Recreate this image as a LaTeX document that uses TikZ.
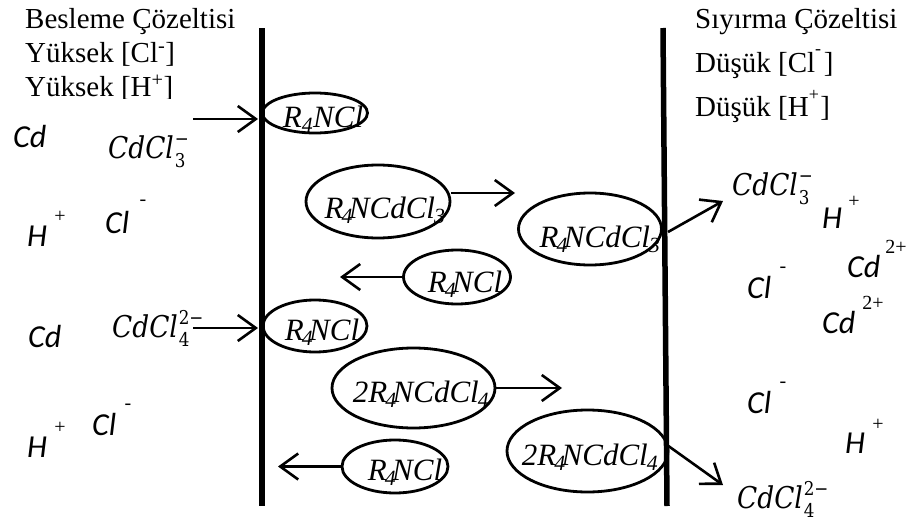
\documentclass[tikz,border=0pt]{standalone}
\usepackage{fontspec}
\setmainfont{Liberation Serif}
\newfontfamily\ionfont{Carlito}
\newfontfamily\cmplxfont{DejaVu Serif}
\usetikzlibrary{arrows.meta,shapes.geometric}
% chloro-cadmium anion with stacked subscript and superscript
\newcommand{\cdcl}[2]{\scalebox{0.88}[1]{{\cmplxfont\itshape CdCl}\kern1pt
  \rlap{\raisebox{-0.32em}{\fontsize{19}{19}\selectfont\cmplxfont #1}}%
  \raisebox{0.42em}{\fontsize{19}{19}\selectfont\cmplxfont #2}}}
\begin{document}
\begin{tikzpicture}[x=1pt,y=-1pt,
  membrane/.style={line width=5.5pt},
  oval/.style={draw, ellipse, line width=2.8pt, inner sep=0pt},
  arr/.style={line width=2.6pt, -{Straight Barb[length=18pt,width=26pt,line width=2.6pt]}},
  head/.style={anchor=base west, inner sep=0pt, font=\fontsize{29}{34}\selectfont},
  cplx/.style={anchor=base, inner sep=0pt, font=\fontsize{31}{34}\selectfont\itshape},
  ion/.style={anchor=base west, inner sep=0pt, font=\fontsize{32}{34}\selectfont\ionfont\itshape},
  chg/.style={anchor=center, inner sep=0pt, font=\fontsize{20}{22}\selectfont},
  mth/.style={anchor=base west, inner sep=0pt, font=\fontsize{30}{34}\selectfont},
]
\useasboundingbox (0,0) rectangle (911,522);

% membranes
\coordinate (mLt) at (262,28);  \coordinate (mLb) at (262,506);
\coordinate (mRt) at (663,28);  \coordinate (mRb) at (667,506);
\draw[membrane] (mLt) -- (mLb);
\draw[membrane] (mRt) -- (mRb);

% solution headers
\node[head] (hl1) at (25,28) {Besleme Çözeltisi};
\node[head] (hl2) at (25,62) {Yüksek [Cl\textsuperscript{-}]};
\begin{scope}
  \clip (0,66) rectangle (250,98);
  \node[head] (hl3) at (25,96) {Yüksek [H\textsuperscript{+}]};
\end{scope}
\node[head] (hr1) at (695,28) {Sıyırma Çözeltisi};
\node[head] (hr2) at (695,72) {Düşük [Cl\rlap{\raisebox{0.6em}{\fontsize{18}{18}\selectfont -}}\hspace{0.3em}]};
\node[head] (hr3) at (695,116) {Düşük [H\rlap{\raisebox{0.55em}{\fontsize{18}{18}\selectfont +}}\hspace{0.4em}]};

% carriers and complexes in the membrane
\node[oval, minimum width=105pt, minimum height=40pt] (e1) at (315,113) {};
\node[oval, minimum width=144pt, minimum height=73pt] (e2) at (378,201.5) {};
\node[oval, minimum width=143pt, minimum height=72pt] (e3) at (590,229) {};
\node[oval, minimum width=107pt, minimum height=54pt] (e4) at (457,277) {};
\node[oval, minimum width=104pt, minimum height=52pt] (e5) at (315,326) {};
\node[oval, minimum width=163pt, minimum height=80pt] (e6) at (413.5,388) {};
\node[oval, minimum width=161pt, minimum height=82pt] (e7) at (587.5,451) {};
\node[oval, minimum width=106pt, minimum height=53pt] (e8) at (395,466.5) {};

\node[cplx] (t1) at (323,127) {R\textsubscript{4}NCl};
\node[cplx] (t2) at (385,218) {R\kern-2pt\textsubscript{4}\kern-4pt NCdCl\kern-1pt\textsubscript{3}};
\node[cplx] (t3) at (600,247) {R\kern-2pt\textsubscript{4}\kern-4pt NCdCl\kern-1pt\textsubscript{3}};
\node[cplx] (t4) at (465,292) {R\kern-2pt\textsubscript{4}\kern-4pt NCl};
\node[cplx] (t5) at (322,340) {R\kern-2pt\textsubscript{4}\kern-4pt NCl};
\node[cplx] (t6) at (421,402) {2R\kern-2pt\textsubscript{4}\kern-4pt NCdCl\kern-1pt\textsubscript{4}};
\node[cplx] (t7) at (590,465) {2R\kern-2pt\textsubscript{4}\kern-4pt NCdCl\kern-1pt\textsubscript{4}};
\node[cplx] (t8) at (405,480) {R\kern-2pt\textsubscript{4}\kern-4pt NCl};

% feed side species
\node[ion] (cdL1) at (13,147) {Cd};
\node[mth] (cdcl3L) at (108,158) {\cdcl{3}{−}};
\node[ion] (hL1) at (27,246) {H};   \node[chg] (hL1c) at (60,217) {+};
\node[ion] (clL1) at (105,233) {Cl}; \node[chg] (clL1c) at (143,203) {-};
\node[ion] (cdL2) at (28,347) {Cd};
\node[mth] (cdcl4L) at (112,337) {\cdcl{4}{2−}};
\node[ion] (clL2) at (92,435) {Cl};  \node[chg] (clL2c) at (128,407) {-};
\node[ion] (hL2) at (27,457) {H};   \node[chg] (hL2c) at (60,428) {+};

% strip side species
\node[mth] (cdcl3R) at (732,195) {\cdcl{3}{−}};
\node[ion] (hR1) at (822,228) {H};   \node[chg] (hR1c) at (854,202) {+};
\node[ion] (cdR1) at (847,277) {Cd}; \node[chg] (cdR1c) at (896,247) {2+};
\node[ion] (clR1) at (747,298) {Cl}; \node[chg] (clR1c) at (783,270) {-};
\node[ion] (cdR2) at (822,333) {Cd}; \node[chg] (cdR2c) at (873,303) {2+};
\node[ion] (clR2) at (747,413) {Cl}; \node[chg] (clR2c) at (783,385) {-};
\node[ion] (hR2) at (845,453) {H};   \node[chg] (hR2c) at (878,425) {+};
\node[mth] (cdcl4R) at (737,508) {\cdcl{4}{2−}};

% transport arrows
\coordinate (a1s) at (193,119); \coordinate (a1e) at (258,119);
\coordinate (a2e) at (515,193);
\coordinate (a3e) at (340,277);
\coordinate (a4s) at (193,328); \coordinate (a4e) at (258,328);
\coordinate (a5e) at (562,388);
\coordinate (a6e) at (278,466.5);
\coordinate (a7s) at (668,232); \coordinate (a7e) at (723,201);
\coordinate (a8s) at (667,445); \coordinate (a8e) at (723,485);
\draw[arr] (a1s) -- (a1e);
\draw[arr] (e2.east |- a2e) -- (a2e);
\draw[arr] (e4.west) -- (a3e);
\draw[arr] (a4s) -- (a4e);
\draw[arr] (e6.east) -- (a5e);
\draw[arr] (e8.west) -- (a6e);
\draw[arr] (a7s) -- (a7e);
\draw[arr] (a8s) -- (a8e);
\end{tikzpicture}
\end{document}
